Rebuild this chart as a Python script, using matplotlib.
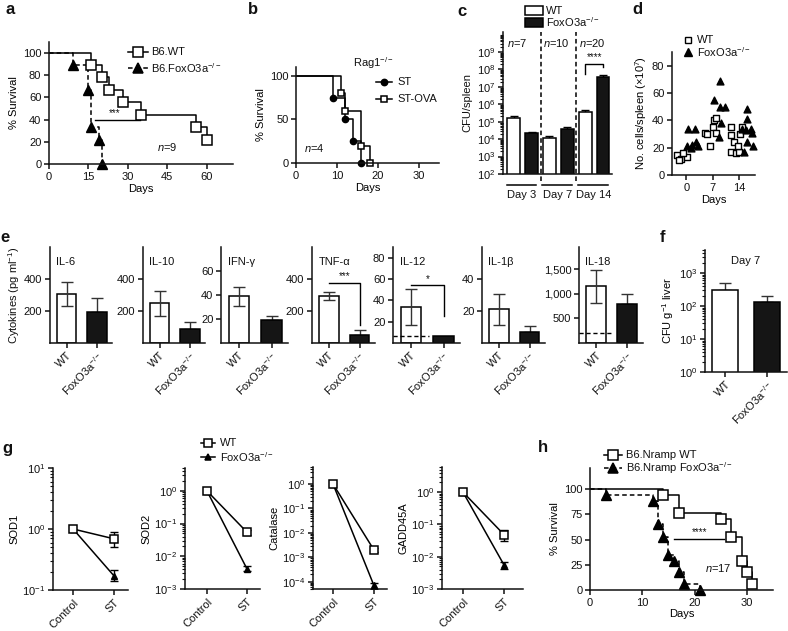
import matplotlib
matplotlib.use('Agg')
import matplotlib.pyplot as plt
import numpy as np
from matplotlib.lines import Line2D
from matplotlib.patches import Rectangle
import matplotlib.transforms as mtrans
import matplotlib.ticker as mticker

plt.rcParams['font.family'] = ['Liberation Sans', 'DejaVu Sans']
plt.rcParams['mathtext.fontset'] = 'custom'
plt.rcParams['mathtext.rm'] = 'Liberation Sans'
plt.rcParams['mathtext.it'] = 'Liberation Sans:italic'
plt.rcParams['mathtext.bf'] = 'Liberation Sans:bold'
plt.rcParams['mathtext.default'] = 'regular'
plt.rcParams['font.size'] = 8
plt.rcParams['axes.linewidth'] = 1.1
plt.rcParams['axes.edgecolor'] = '#111111'
plt.rcParams['text.color'] = '#111111'
plt.rcParams['xtick.color'] = '#111111'
plt.rcParams['ytick.color'] = '#111111'

KO = r'FoxO3a$^{-/-}$'

# ---------------- data ----------------
# a: survival B6
a_wt_days = [0, 16, 20, 23, 28, 35, 56, 60]
a_wt_surv = [100, 89, 78, 67, 56, 44, 33, 22]
a_ko_days = [0, 9, 15, 16, 19, 20]
a_ko_surv = [100, 89, 67, 33, 22, 0]

# b: Rag1-/- survival
b_st_days = [0, 9, 12, 14, 16]
b_st_surv = [100, 75, 50, 25, 0]
b_ova_days = [0, 11, 12, 16, 18]
b_ova_surv = [100, 80, 60, 20, 0]

# c: CFU/spleen
c_groups = ['Day 3', 'Day 7', 'Day 14']
c_n = ['7', '10', '20']
c_wt = [1.6e5, 1.2e4, 3.6e5]
c_wt_err = [0.5e5, 0.25e4, 1.4e5]
c_ko = [2.2e4, 4.0e4, 3.7e7]
c_ko_err = [0.4e4, 1.2e4, 0.9e7]

# d: cells/spleen
d_wt_day = [-2.6, -1.5, 0.3, -0.8, -1.9,
            5.1, 6.2, 7.0, 7.3, 7.8, 5.5, 7.8,
            11.9, 11.9, 12.7, 11.9, 13.2, 14.0, 14.8, 14.3, 13.7]
d_wt_val = [15, 12, 13, 16, 11,
            31, 21, 35, 40, 42, 30, 31,
            35, 29, 24, 17, 16, 17, 35, 30, 21]
d_ko_day = [0.5, 2.2, 0.3, 1.6, 2.6, 3.0, 1.2,
            7.5, 8.9, 8.9, 10.2, 9.2, 8.6,
            16.2, 16.2, 17.3, 15.9, 17.5, 16.2, 17.8, 15.4, 14.8]
d_ko_val = [34, 34, 21, 22, 24, 21, 20,
            55, 69, 50, 50, 38, 28,
            48, 41, 34, 33, 31, 24, 21, 17, 34]

# e: cytokines
e_names = ['IL-6', 'IL-10', 'IFN-γ', 'TNF-α', 'IL-12', 'IL-1β', 'IL-18']
e_wt = [305, 248, 39, 295, 34, 21, 1150]
e_wt_err = [75, 78, 8, 25, 17, 9.5, 340]
e_ko = [195, 87, 19, 50, 7, 7, 800]
e_ko_err = [85, 45, 3.5, 32, 0, 3.5, 190]
e_ymax = [600, 600, 80, 600, 90, 60, 1950]
e_ticks = [[200, 400], [200, 400], [20, 40, 60], [200, 400],
           [20, 40, 60, 80], [20, 40], [500, 1000, 1500]]
e_tick_labels = [['200', '400'], ['200', '400'], ['20', '40', '60'], ['200', '400'],
                 ['20', '40', '60', '80'], ['20', '40'], ['500', '1,000', '1,500']]
e_detect = [None, None, None, None, 7, None, 200]

# f: CFU liver day 7
f_vals = [300, 130]
f_err = [200, 70]

# g: gene expression
g_genes = ['SOD1', 'SOD2', 'Catalase', 'GADD45A']
g_wt_st = [0.69, 0.055, 0.002, 0.048]
g_wt_lo = [0.5, 0.045, 0.0017, 0.03]
g_wt_hi = [0.9, 0.065, 0.0024, 0.065]
g_ko_st = [0.17, 0.0042, 7e-5, 0.0055]
g_ko_lo = [0.14, 0.0035, 5e-5, 0.0042]
g_ko_hi = [0.21, 0.005, 9e-5, 0.0068]

# h: Nramp survival
h_wt_days = [0, 14, 17, 25, 27, 29, 30, 31]
h_wt_surv = [100, 94, 76, 70, 53, 29, 18, 6]
h_ko_days = [0, 3, 12, 13, 14, 15, 16, 17, 18, 21]
h_ko_surv = [100, 94, 88, 65, 53, 35, 29, 18, 6, 0]

# ---------------- figure ----------------
W, H = 788, 631
fig = plt.figure(figsize=(W / 100, H / 100), dpi=100)


def axpx(l, t, r, b):
    ax = fig.add_axes([l / W, 1 - b / H, (r - l) / W, (b - t) / H])
    ax.spines['top'].set_visible(False)
    ax.spines['right'].set_visible(False)
    ax.tick_params(direction='out', length=3.5, width=1.1, labelsize=8, pad=2)
    ax.tick_params(which='minor', length=2, width=0.8)
    ax.patch.set_alpha(0)
    return ax


def ftext(x, y, s, **kw):
    fig.text(x / W, 1 - y / H, s, **kw)


def leg_item(x, y, marker, mfc, ls, label, ms=6, seg=18, tx=None):
    fig.add_artist(Line2D([(x - seg / 2) / W, (x + seg / 2) / W], [1 - y / H] * 2,
                          color='k', lw=1.1, ls=ls))
    fig.add_artist(Line2D([x / W], [1 - y / H], marker=marker, ms=ms, mfc=mfc,
                          mec='k', mew=1.1, ls='none'))
    ftext(tx if tx else x + seg / 2 + 3, y, label, va='center', ha='left', fontsize=8)


DASH = (0, (3, 2))

# ---- panel a ----
ax = axpx(49, 42, 233, 164)
ax.plot(a_wt_days, a_wt_surv, drawstyle='steps-post', color='k', lw=1.1)
ax.plot(a_ko_days, a_ko_surv, drawstyle='steps-post', color='k', lw=1.1, ls=DASH)
ax.plot(a_wt_days[1:], a_wt_surv[1:], ls='none', marker='s', ms=7, mfc='white',
        mec='k', mew=1.1, clip_on=False)
ax.plot(a_ko_days[1:], a_ko_surv[1:], ls='none', marker='^', ms=6.5, color='k', clip_on=False)
ax.set_xlim(0, 70)
ax.set_ylim(0, 110)
ax.set_xticks([0, 15, 30, 45, 60])
ax.set_yticks([0, 20, 40, 60, 80, 100])
ax.set_xlabel('Days', labelpad=2)
ax.set_ylabel('% Survival', labelpad=3)
ax.plot([17.5, 34.5], [40, 40], color='k', lw=1)
ax.text(25, 41, '***', ha='center', va='bottom', fontsize=7)
ax.text(45, 15, r'$\mathit{n}$=9', ha='center', va='center')
leg_item(138, 52, 's', 'white', '-', 'B6.WT', ms=7, seg=20, tx=151)
leg_item(138, 68, '^', 'k', DASH, 'B6.' + KO, ms=6.5, seg=20, tx=151)

# ---- panel b ----
ax = axpx(296, 67, 439, 163)
ax.plot(b_st_days, b_st_surv, drawstyle='steps-post', color='k', lw=1.1)
ax.plot(b_ova_days, b_ova_surv, drawstyle='steps-post', color='k', lw=1.1)
ax.plot(b_st_days[1:], b_st_surv[1:], ls='none', marker='o', ms=4.5, color='k', clip_on=False)
ax.plot(b_ova_days[1:], b_ova_surv[1:], ls='none', marker='s', ms=5, mfc='white',
        mec='k', mew=1.1, clip_on=False)
ax.set_xlim(0, 35)
ax.set_ylim(0, 110)
ax.set_xticks([0, 10, 20, 30])
ax.set_yticks([0, 50, 100])
ax.set_xlabel('Days', labelpad=2)
ax.set_ylabel('% Survival', labelpad=3)
ax.text(2, 17, r'$\mathit{n}$=4', ha='left', va='center')
ftext(353, 63, r'Rag1$^{-/-}$', ha='left', va='center')
leg_item(384, 82, 'o', 'k', '-', 'ST', ms=4.5, seg=16, tx=397)
leg_item(384, 99, 's', 'white', '-', 'ST-OVA', ms=5, seg=16, tx=397)

# ---- panel c ----
ax = axpx(503, 32, 612, 174)
ax.set_yscale('log')
xs_wt = [0, 2, 4]
xs_ko = [1, 3, 5]
ax.bar(xs_wt, c_wt, width=0.72, bottom=1, color='white', edgecolor='k', lw=1.1, zorder=2)
ax.bar(xs_ko, c_ko, width=0.72, bottom=1, color='#151515', edgecolor='k', lw=1.1, zorder=2)
ax.errorbar(xs_wt, c_wt, yerr=[[0] * 3, c_wt_err], fmt='none', ecolor='k', elinewidth=1,
            capsize=3, capthick=1, zorder=1)
ax.errorbar(xs_ko, c_ko, yerr=[[0] * 3, c_ko_err], fmt='none', ecolor='k', elinewidth=1,
            capsize=3, capthick=1, zorder=1)
ax.set_ylim(1e2, 1.4e10)
ax.set_xlim(-0.6, 5.5)
ax.set_yticks([10 ** k for k in range(2, 10)])
ax.yaxis.set_minor_locator(mticker.LogLocator(base=10, subs=np.arange(2, 10), numticks=20))
ax.yaxis.set_minor_formatter(mticker.NullFormatter())
ax.set_xticks([])
ftext(467, 103, 'CFU/spleen', rotation=90, ha='center', va='center')
for xv in [1.5, 3.5]:
    ax.axvline(xv, ymin=-0.05, ymax=1, color='k', lw=1.1, ls=DASH, clip_on=False)
tr = mtrans.blended_transform_factory(ax.transData, ax.transAxes)
for i, g in enumerate(c_groups):
    ax.plot([2 * i - 0.4, 2 * i + 1.27], [-0.077, -0.077], transform=tr, color='k', lw=1.1,
            clip_on=False)
    ax.text(2 * i + 0.45, -0.11, g, transform=tr, ha='center', va='top')
    ax.text(2 * i - 0.35, 0.92, r'$\mathit{n}$=' + c_n[i], transform=tr, ha='left',
            va='center')
ax.plot([4, 4, 5, 5], [10 ** 7.75, 10 ** 8.3, 10 ** 8.3, 10 ** 8.15], color='k', lw=1)
ax.text(4.5, 10 ** 8.4, '****', ha='center', va='bottom', fontsize=7)
fig.add_artist(Rectangle((525 / W, 1 - 15 / H), 18 / W, 9 / H, facecolor='white',
                         edgecolor='k', lw=1.1))
fig.add_artist(Rectangle((525 / W, 1 - 27 / H), 18 / W, 9 / H, facecolor='#151515',
                         edgecolor='k', lw=1.1))
ftext(546, 10.5, 'WT', ha='left', va='center')
ftext(546, 22.5, KO, ha='left', va='center')

# ---- panel d ----
ax = axpx(672, 52, 755, 175)
ax.scatter(d_wt_day, d_wt_val, marker='s', s=22, facecolor='white', edgecolor='k',
           lw=1.0, zorder=3, clip_on=False)
ax.scatter(d_ko_day, d_ko_val, marker='^', s=24, color='k', zorder=3, clip_on=False)
ax.set_xlim(-3.8, 18.3)
ax.set_ylim(0, 90)
ax.set_xticks([0, 7, 14])
ax.set_yticks([0, 20, 40, 60, 80])
ax.set_xlabel('Days', labelpad=2)
ax.set_ylabel(r'No. cells/spleen ($\times$10$^{7}$)', labelpad=2)
fig.add_artist(Line2D([688 / W], [1 - 40 / H], marker='s', ms=5, mfc='white', mec='k',
                      mew=1.0, ls='none'))
fig.add_artist(Line2D([688 / W], [1 - 52 / H], marker='^', ms=5.5, color='k', ls='none'))
ftext(697, 40, 'WT', ha='left', va='center')
ftext(697, 52, KO, ha='left', va='center')

# ---- panel e ----
e_boxes = [(50, 112), (143, 205), (221, 288), (312, 375), (393, 460), (482, 545), (579, 643)]
for i, (l, r) in enumerate(e_boxes):
    ax = axpx(l, 247, r, 343)
    ax.bar([0], [e_wt[i]], width=0.64, color='white', edgecolor='k', lw=1.1, zorder=2)
    ax.bar([1], [e_ko[i]], width=0.64, color='#151515', edgecolor='k', lw=1.1, zorder=2)
    ax.errorbar([0], [e_wt[i]], yerr=[[e_wt_err[i]], [e_wt_err[i]]], fmt='none',
                ecolor='#333333', elinewidth=1, capsize=4, capthick=1, zorder=3)
    if e_ko_err[i] > 0:
        ax.errorbar([1], [e_ko[i]], yerr=[[0], [e_ko_err[i]]], fmt='none', ecolor='#333333',
                    elinewidth=1, capsize=4, capthick=1, zorder=1)
    ax.set_xlim(-0.55, 1.5)
    ax.set_ylim(0, e_ymax[i])
    ax.set_yticks(e_ticks[i])
    ax.set_yticklabels(e_tick_labels[i])
    ax.set_xticks([0, 1])
    ax.set_xticklabels(['WT', KO], rotation=45, ha='right', rotation_mode='anchor')
    ax.text(0.1, 0.84, e_names[i], transform=ax.transAxes, ha='left', va='center')
    if e_detect[i] is not None:
        ax.plot([-0.55, 0.55], [e_detect[i]] * 2, color='k', lw=1, ls=DASH, zorder=4)
    if i == 3:
        ax.plot([0, 1, 1], [375, 375, 110], color='k', lw=1)
        ax.text(0.5, 385, '***', ha='center', va='bottom', fontsize=7)
    if i == 4:
        ax.plot([0, 1, 1], [54, 54, 25], color='k', lw=1)
        ax.text(0.5, 55, '*', ha='center', va='bottom', fontsize=7)
ftext(14, 295, r'Cytokines (pg ml$^{-1}$)', rotation=90, ha='center', va='center')

# ---- panel f ----
ax = axpx(705, 250, 787, 372)
ax.set_yscale('log')
ax.bar([0, 1], f_vals, width=0.62, bottom=0.01, color=['white', '#151515'], edgecolor='k',
       lw=1.1, zorder=2)
ax.errorbar([0, 1], f_vals, yerr=[[0, 0], f_err], fmt='none', ecolor='#333333',
            elinewidth=1, capsize=4, capthick=1, zorder=1)
ax.set_ylim(1, 5000)
ax.set_xlim(-0.48, 1.48)
ax.set_yticks([1, 10, 100, 1000])
ax.yaxis.set_minor_locator(mticker.LogLocator(base=10, subs=np.arange(2, 10), numticks=20))
ax.yaxis.set_minor_formatter(mticker.NullFormatter())
ax.set_xticks([0, 1])
ax.set_xticklabels(['WT', KO], rotation=45, ha='right', rotation_mode='anchor')
ax.set_ylabel(r'CFU g$^{-1}$ liver', labelpad=2)
ax.text(0.5, 0.91, 'Day 7', transform=ax.transAxes, ha='center', va='center')

# ---- panel g ----
g_boxes = [(53, 468, 128, 590), (185, 468, 260, 589), (313, 467, 387, 589), (442, 467, 523, 589)]
g_xlims = [(-0.49, 1.34), (-0.55, 1.33), (-0.49, 1.32), (-0.51, 1.46)]
g_ylims = [(0.1, 10), (1e-3, 5), (5e-5, 5), (1e-3, 6)]
g_yticks = [[0.1, 1, 10], [1e-3, 1e-2, 1e-1, 1], [1e-4, 1e-3, 1e-2, 1e-1, 1],
            [1e-3, 1e-2, 1e-1, 1]]
for i in range(4):
    l, t, r, b = g_boxes[i]
    ax = axpx(l, t, r, b)
    ax.set_yscale('log')
    ax.plot([0, 1], [1, g_wt_st[i]], color='k', lw=1.1, zorder=2)
    ax.plot([0, 1], [1, g_ko_st[i]], color='k', lw=1.1, zorder=2)
    ax.errorbar([1], [g_wt_st[i]], yerr=[[g_wt_st[i] - g_wt_lo[i]], [g_wt_hi[i] - g_wt_st[i]]],
                fmt='none', ecolor='k', elinewidth=1, capsize=3, capthick=1, zorder=2)
    ax.errorbar([1], [g_ko_st[i]], yerr=[[g_ko_st[i] - g_ko_lo[i]], [g_ko_hi[i] - g_ko_st[i]]],
                fmt='none', ecolor='k', elinewidth=1, capsize=3, capthick=1, zorder=2)
    ax.plot([0, 1], [1, g_ko_st[i]], ls='none', marker='^', ms=5, color='k', zorder=3,
            clip_on=False)
    ax.plot([0, 1], [1, g_wt_st[i]], ls='none', marker='s', ms=5.5, mfc='white', mec='k',
            mew=1.1, zorder=4, clip_on=False)
    ax.set_xlim(*g_xlims[i])
    ax.set_ylim(*g_ylims[i])
    ax.set_yticks(g_yticks[i])
    ax.yaxis.set_minor_locator(mticker.LogLocator(base=10, subs=np.arange(2, 10), numticks=20))
    ax.yaxis.set_minor_formatter(mticker.NullFormatter())
    ax.set_xticks([0, 1])
    ax.set_xticklabels(['Control', 'ST'], rotation=45, ha='right', rotation_mode='anchor')
    ax.set_ylabel(g_genes[i], labelpad=2)
leg_item(208, 443, 's', 'white', '-', 'WT', ms=5.5, seg=14, tx=220)
leg_item(208, 457, '^', 'k', '-', KO, ms=5, seg=14, tx=220)

# ---- panel h ----
ax = axpx(590, 468, 773, 590)
ax.plot(h_wt_days, h_wt_surv, drawstyle='steps-post', color='k', lw=1.1)
ax.plot(h_ko_days, h_ko_surv, drawstyle='steps-post', color='k', lw=1.1, ls=DASH)
ax.plot(h_wt_days[1:], h_wt_surv[1:], ls='none', marker='s', ms=7, mfc='white', mec='k',
        mew=1.1, clip_on=False)
ax.plot(h_ko_days[1:], h_ko_surv[1:], ls='none', marker='^', ms=6.5, color='k', clip_on=False)
ax.set_xlim(0, 35)
ax.set_ylim(0, 121)
ax.set_xticks([0, 10, 20, 30])
ax.set_yticks([0, 25, 50, 75, 100])
ax.set_xlabel('Days', labelpad=1)
ax.set_ylabel('% Survival', labelpad=3)
ax.plot([16, 25.6], [51, 51], color='k', lw=1)
ax.text(21, 52, '****', ha='center', va='bottom', fontsize=7)
ax.text(22, 22, r'$\mathit{n}$=17', ha='left', va='center')
leg_item(613, 455, 's', 'white', '-', 'B6.Nramp WT', ms=7, seg=18, tx=626)
leg_item(613, 468, '^', 'k', DASH, 'B6.Nramp ' + KO, ms=6.5, seg=18, tx=626)

# ---- panel letters ----
for lab, x, y in [('a', 10, 10), ('b', 253, 10), ('c', 462, 12), ('d', 637, 10),
                  ('e', 5, 237), ('f', 663, 238), ('g', 7, 448), ('h', 543, 447)]:
    ftext(x, y, lab, fontsize=12, fontweight='bold', ha='center', va='center')

fig.savefig('out.png', dpi=100)
